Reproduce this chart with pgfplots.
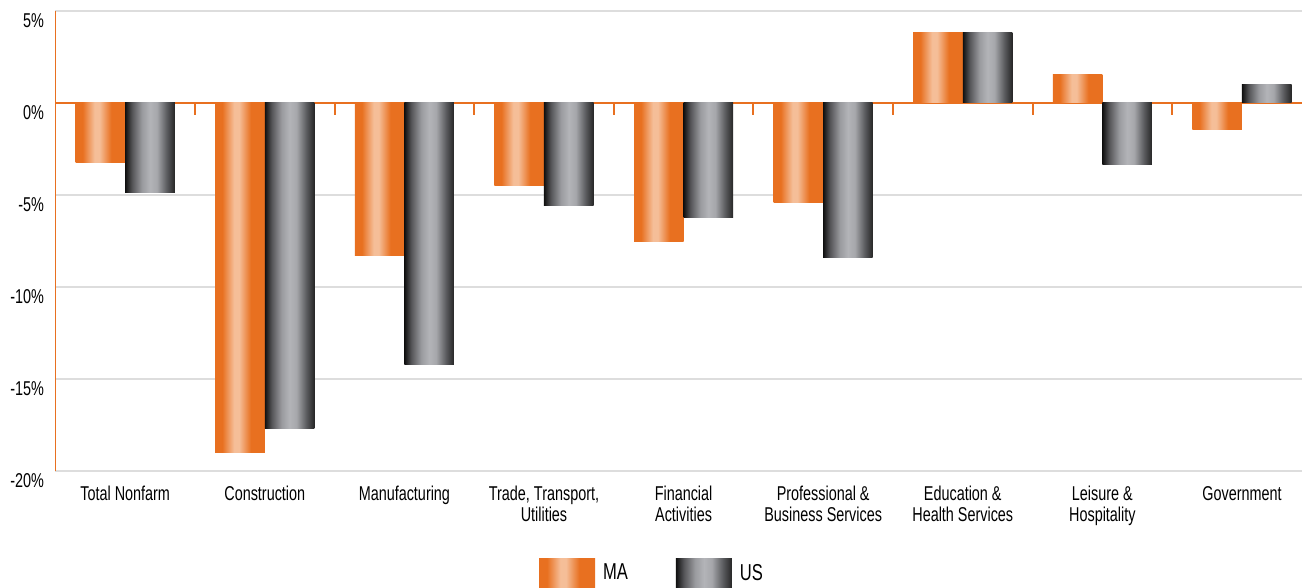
\documentclass[border=0pt]{standalone}
\usepackage{pgfplots}
\pgfplotsset{compat=1.18}
\usepackage{fontspec}
\setmainfont{Liberation Sans}[FakeStretch=0.72]
\definecolor{ora}{HTML}{E87020}
\definecolor{peach}{HTML}{F5BE98}
\definecolor{gd0}{HTML}{101010}
\definecolor{gd1}{HTML}{555558}
\definecolor{gd2}{HTML}{9A9B9F}
\definecolor{gd3}{HTML}{B3B4B8}
\definecolor{gd4}{HTML}{A6A7AB}
\definecolor{gd5}{HTML}{5A5B5E}
\definecolor{gd6}{HTML}{262626}
\definecolor{gridc}{HTML}{DDDDDD}
\pgfdeclarehorizontalshading{mashade}{100bp}{color(0bp)=(ora); color(25bp)=(ora); color(32bp)=(ora); color(44bp)=(peach); color(49bp)=(peach); color(61bp)=(ora); color(75bp)=(ora); color(100bp)=(ora)}
\pgfdeclarehorizontalshading{usshade}{100bp}{color(0bp)=(gd0); color(25bp)=(gd0); color(32bp)=(gd1); color(42bp)=(gd2); color(50bp)=(gd3); color(57bp)=(gd4); color(67bp)=(gd5); color(75bp)=(gd6); color(100bp)=(gd6)}
\pgfplotsset{
  mabar/.style={ybar, bar shift=-0.1775, draw=none, shade, shading=mashade,
    legend image code/.code={\path[draw=none, shade, shading=mashade] (0pt,-7.25pt) rectangle (28pt,7.25pt);}},
  usbar/.style={ybar, bar shift=0.1775, draw=none, shade, shading=usshade,
    legend image code/.code={\path[draw=none, shade, shading=usshade] (0pt,-7.25pt) rectangle (28pt,7.25pt);}},
}
\begin{document}
\begin{tikzpicture}
\begin{axis}[
  at={(27.7pt,58.5pt)}, anchor=south west,
  scale only axis, width=623.3pt, height=230pt,
  xmin=-0.5, xmax=8.43, ymin=-20, ymax=5,
  axis y line*=left, axis x line*=bottom,
  x axis line style={draw=none},
  y axis line style={draw=ora, line width=0.8pt},
  ytick={-20,-15,-10,-5,0,5},
  yticklabel={\pgfmathprintnumber{\tick}\%},
  /pgf/number format/assume math mode=true,
  yticklabel style={font=\fontsize{10}{12}\selectfont, inner sep=0pt, xshift=-5.5pt, yshift=-5pt, anchor=east},
  ymajorgrids, grid style={draw=gridc, line width=0.6pt},
  extra y ticks={0}, extra y tick labels={},
  extra y tick style={grid style={draw=ora, line width=0.8pt}},
  major tick length=0pt,
  xtick={0,...,8},
  xticklabels={Total Nonfarm, Construction, Manufacturing, {Trade, Transport,\\Utilities}, {Financial\\Activities}, {Professional \&\\Business Services}, {Education \&\\Health Services}, {Leisure \&\\Hospitality}, Government},
  xticklabel style={font=\fontsize{10}{10.5}\selectfont, align=center, inner sep=0pt, yshift=-7.5pt, anchor=north},
  bar width=0.355,
  legend columns=2,
  legend style={draw=none, font=\fontsize{11.5}{13}\selectfont, at={(0.481,-0.2228)}, anchor=center,
    /tikz/every even column/.append style={column sep=20pt},
    /tikz/every odd column/.append style={column sep=0pt},
    nodes={inner xsep=4pt}},
]
% MA
\addplot[mabar] coordinates {(0,-3.23)};
\addlegendentry{MA}
\addplot[mabar, forget plot] coordinates {(1,-19.0)};
\addplot[mabar, forget plot] coordinates {(2,-8.3)};
\addplot[mabar, forget plot] coordinates {(3,-4.5)};
\addplot[mabar, forget plot] coordinates {(4,-7.55)};
\addplot[mabar, forget plot] coordinates {(5,-5.42)};
\addplot[mabar, forget plot] coordinates {(6,3.82)};
\addplot[mabar, forget plot] coordinates {(7,1.54)};
\addplot[mabar, forget plot] coordinates {(8,-1.45)};
% US
\addplot[usbar] coordinates {(0,-4.86)};
\addlegendentry{US}
\addplot[usbar, forget plot] coordinates {(1,-17.7)};
\addplot[usbar, forget plot] coordinates {(2,-14.2)};
\addplot[usbar, forget plot] coordinates {(3,-5.58)};
\addplot[usbar, forget plot] coordinates {(4,-6.23)};
\addplot[usbar, forget plot] coordinates {(5,-8.4)};
\addplot[usbar, forget plot] coordinates {(6,3.82)};
\addplot[usbar, forget plot] coordinates {(7,-3.37)};
\addplot[usbar, forget plot] coordinates {(8,0.98)};
\foreach \i in {0.5,1.5,...,7.5} {
  \edef\temp{\noexpand\draw[ora, line width=1pt] (axis cs:\i,0) -- ([yshift=-6pt]axis cs:\i,0);}
  \temp
}
\end{axis}
\pgfresetboundingbox
\path (0,0) rectangle (651pt,294pt);
\end{tikzpicture}
\end{document}
